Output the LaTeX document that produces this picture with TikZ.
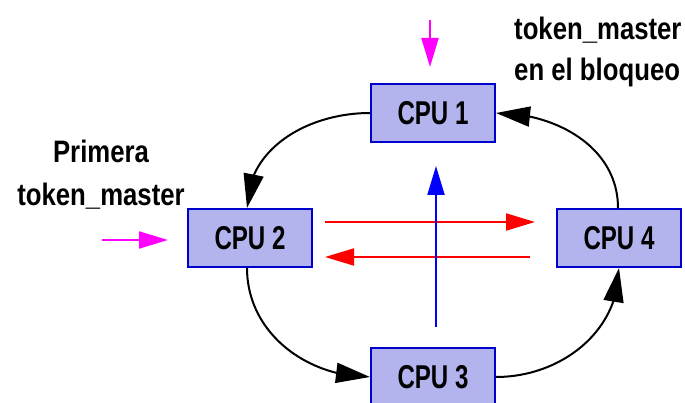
\documentclass[tikz,border=0pt]{standalone}
\usepackage{fontspec}
\setmainfont{Liberation Sans}
\newfontfamily\narrowfont{Liberation Sans}[FakeStretch=0.73]
\newfontfamily\notefont{Liberation Sans}[FakeStretch=0.83]
\usetikzlibrary{arrows.meta,bending}
\definecolor{cpufill}{RGB}{179,179,238}
\definecolor{cpuedge}{RGB}{0,0,204}
\definecolor{tokenpink}{RGB}{255,0,255}
\definecolor{msgred}{RGB}{255,0,0}
\definecolor{msgblue}{RGB}{0,0,255}

\begin{document}
\begin{tikzpicture}[x=1pt, y=-1pt,
  cpu/.style={rectangle, draw=cpuedge, fill=cpufill, line width=2pt, minimum width=124pt, minimum height=58pt, inner sep=0pt, font=\narrowfont\bfseries\fontsize{33}{38}\selectfont},
  ring/.style={-{Triangle[length=34pt, width=20pt]}, line width=2pt, black},
  msg/.style={-{Triangle[length=29pt, width=17pt]}, line width=2pt},
  note/.style={inner sep=0pt, font=\notefont\bfseries\fontsize{31}{41}\selectfont}]

  \useasboundingbox (0,0) rectangle (685,403);

  % Nodes
  \node[cpu] (cpu1) at (433,113) {CPU 1};
  \node[cpu] (cpu2) at (250,238) {CPU 2};
  \node[cpu] (cpu4) at (619,238) {CPU 4};
  \node[cpu] (cpu3) at (433,377) {CPU 3};

  \node[note, align=left, anchor=base west] (lock) at (514,81) {token\_master\\en el bloqueo};
  \node[note, align=center, anchor=base, font=\notefont\bfseries\fontsize{31}{43}\selectfont] (first) at (101,206) {Primera\\token\_master};

  % Ring
  \draw[ring] (cpu1.west) to[out=180, in=90] ([xshift=-3pt]cpu2.north);
  \draw[ring] ([xshift=-3pt]cpu2.south) to[out=-90, in=180] (cpu3.west);
  \draw[ring] (cpu3.east) to[out=0, in=-90] (cpu4.south);
  \draw[ring] ([xshift=-1pt]cpu4.north) to[out=90, in=0] (cpu1.east);

  % Token entries
  \coordinate (feed1) at (430,20);
  \coordinate (feed2) at (102,240);
  \draw[msg, tokenpink, shorten >=16pt] (feed1) -- (feed1 |- cpu1.north);
  \draw[msg, tokenpink, shorten >=19pt] (feed2) -- (feed2 -| cpu2.west);

  % Messages
  \draw[msg, msgred, shorten <=12pt, shorten >=21pt] ([yshift=16pt]cpu2.east) -- ([yshift=16pt]cpu4.west);
  \draw[msg, msgred, shorten <=26pt, shorten >=12pt] ([yshift=-19pt]cpu4.west) -- ([yshift=-19pt]cpu2.east);
  \draw[msg, msgblue, shorten <=20pt, shorten >=23pt] ([xshift=3pt]cpu3.north) -- ([xshift=3pt]cpu1.south);

\end{tikzpicture}
\end{document}
